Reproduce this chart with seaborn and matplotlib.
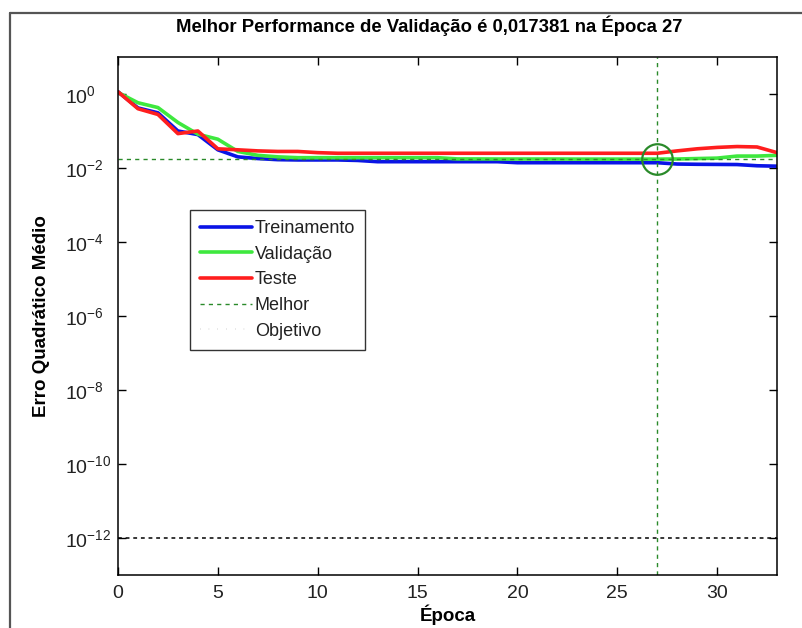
import numpy as np
import pandas as pd
import matplotlib
matplotlib.use("Agg")
import matplotlib.pyplot as plt
import seaborn as sns
from matplotlib.lines import Line2D

# ---- data ----
epochs = list(range(34))
treino = [1.15, 0.42, 0.31, 0.10, 0.080, 0.031, 0.020, 0.018, 0.0168, 0.0165,
          0.0165, 0.0165, 0.0160, 0.0148, 0.0148, 0.0148, 0.0148, 0.0148, 0.0148, 0.0148,
          0.0139, 0.0139, 0.0139, 0.0139, 0.0139, 0.0139, 0.0139, 0.0139, 0.0128, 0.0126,
          0.0125, 0.0124, 0.0115, 0.0112]
validacao = [1.10, 0.58, 0.43, 0.17, 0.082, 0.060, 0.028, 0.022, 0.020, 0.019,
             0.019, 0.019, 0.019, 0.019, 0.019, 0.019, 0.019, 0.0176, 0.0176, 0.0175,
             0.0175, 0.0175, 0.0175, 0.0174, 0.0174, 0.0174, 0.0174, 0.017381, 0.0175, 0.018,
             0.0185, 0.021, 0.021, 0.022]
teste = [1.15, 0.40, 0.28, 0.085, 0.10, 0.033, 0.031, 0.029, 0.028, 0.028,
         0.026, 0.025, 0.025, 0.025, 0.025, 0.025, 0.025, 0.025, 0.025, 0.025,
         0.025, 0.025, 0.025, 0.025, 0.025, 0.025, 0.025, 0.025, 0.029, 0.033,
         0.036, 0.038, 0.037, 0.026]
series_names = ["Treinamento", "Validação", "Teste"]
best_epoch = 27
best_value = 0.017381
goal = 1e-12
xticks = [0, 5, 10, 15, 20, 25, 30]
yticks_exp = [0, -2, -4, -6, -8, -10, -12]

title = "Melhor Performance de Validação é 0,017381 na Época 27"
xlabel = "Época"
ylabel = "Erro Quadrático Médio"

colors = {"Treinamento": "#0a14e6", "Validação": "#3ee83e", "Teste": "#ff1e1e"}
best_color = "#2a8a2a"

df = pd.DataFrame({
    "Época": epochs * 3,
    "valor": treino + validacao + teste,
    "serie": [series_names[0]] * 34 + [series_names[1]] * 34 + [series_names[2]] * 34,
})

sns.set_style("ticks")
plt.rcParams["font.family"] = ["Liberation Sans", "DejaVu Sans"]
plt.rcParams["mathtext.fontset"] = "custom"
plt.rcParams["mathtext.rm"] = "Liberation Sans"
plt.rcParams["mathtext.it"] = "Liberation Sans"
plt.rcParams["mathtext.bf"] = "Liberation Sans:bold"

fig = plt.figure(figsize=(8.03, 6.28), dpi=100)
ax = fig.add_axes([118 / 803, 1 - 575 / 628, (777 - 118) / 803, (575 - 57) / 628])

sns.lineplot(data=df, x="Época", y="valor", hue="serie", palette=colors,
             linewidth=2.6, ax=ax, legend=False, hue_order=series_names)

ax.set_yscale("log")
ax.set_xlim(0, 33)
ax.set_ylim(1e-13, 1e1)

# best and goal lines
ax.axvline(best_epoch, color=best_color, lw=1, ls=(0, (3, 3)))
ax.axhline(best_value, color=best_color, lw=1, ls=(0, (3, 3)))
ax.axhline(goal, color="black", lw=1.1, ls=(0, (2.5, 2.5)))
ax.plot([best_epoch], [best_value], "o", mfc="none", mec=best_color, ms=22, mew=1.6)

ax.set_xticks(xticks)
ax.set_xticklabels([str(t) for t in xticks])
ax.set_yticks([10.0 ** e for e in yticks_exp])
ax.set_yticklabels([r"$\mathregular{10^{%d}}$" % e for e in yticks_exp])
ax.minorticks_off()
ax.tick_params(axis="both", direction="in", length=6, width=1, color="black",
               top=True, right=True, labelsize=14, labelcolor="#222222")
ax.tick_params(axis="y", pad=38)
for lab in ax.get_yticklabels():
    lab.set_horizontalalignment("left")
ax.tick_params(axis="x", pad=7)
for s in ax.spines.values():
    s.set_color("black")
    s.set_linewidth(1.1)

ax.set_title(title, fontsize=13.3, fontweight="bold", pad=18, color="black",
             x=(429 - 118) / 659)
ax.set_xlabel(xlabel, fontsize=13.5, fontweight="bold", labelpad=2, color="black")
ax.set_ylabel(ylabel, fontsize=13.5, fontweight="bold", labelpad=11, color="black")

handles = [
    Line2D([], [], color=colors["Treinamento"], lw=2.6),
    Line2D([], [], color=colors["Validação"], lw=2.6),
    Line2D([], [], color=colors["Teste"], lw=2.6),
    Line2D([], [], color=best_color, lw=1, ls=(0, (3, 3))),
    Line2D([], [], color="black", lw=0.3, ls=(0, (1, 20))),
]
leg = ax.legend(handles, series_names + ["Melhor", "Objetivo"],
                loc="upper left", bbox_to_anchor=((190 - 118) / 659, (575 - 210) / 518),
                fontsize=13, frameon=True, fancybox=False, handlelength=2.9,
                handletextpad=0.15, labelspacing=0.48, borderpad=0.55, borderaxespad=0)
leg.get_frame().set_edgecolor("black")
leg.get_frame().set_linewidth(1.0)
for t in leg.get_texts():
    t.set_color("#222222")

# outer figure frame
fig.add_artist(Line2D([10 / 803, 10 / 803], [0, 1 - 13 / 628], transform=fig.transFigure,
                      color="#555555", lw=1.6))
fig.add_artist(Line2D([10 / 803, 1], [1 - 13 / 628, 1 - 13 / 628], transform=fig.transFigure,
                      color="#555555", lw=1.6))

fig.savefig("out.png", dpi=100)
